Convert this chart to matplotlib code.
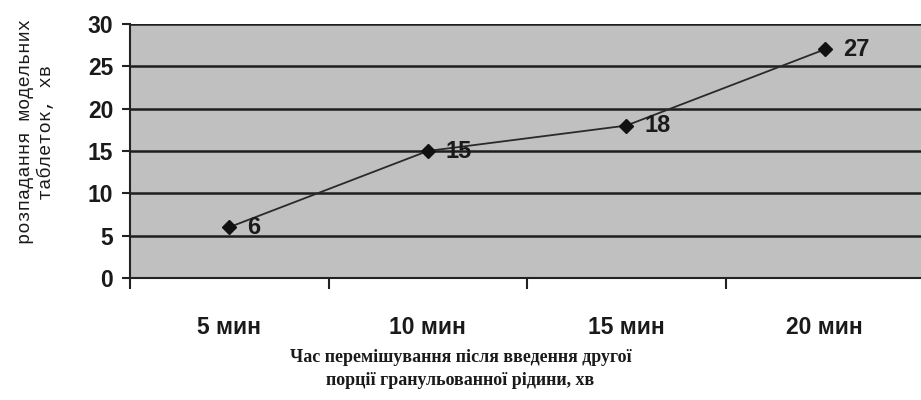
import matplotlib.pyplot as plt

categories = ["5 мин", "10 мин", "15 мин", "20 мин"]
values = [6, 15, 18, 27]
y_ticks = [0, 5, 10, 15, 20, 25, 30]

fig = plt.figure(figsize=(9.21, 4), dpi=100)
ax = fig.add_axes([130 / 921, 122 / 400, 794 / 921, 254 / 400])
ax.set_facecolor("#c0c0c0")

x = list(range(len(categories)))
ax.plot(x, values, color="#2a2a2a", lw=1.3, marker="D", ms=7, mfc="#111111", mec="#111111", zorder=3)
for xi, v in zip(x, values):
    ax.annotate(str(v), (xi, v), xytext=(13, 0), textcoords="offset points", va="center", ha="left",
                fontsize=17, fontweight="bold", family="Liberation Sans", color="#1a1a1a", zorder=4)

ax.set_ylim(0, 30)
ax.set_xlim(-0.5, 3.5)
ax.set_yticks(y_ticks)
ax.yaxis.grid(True, color="#1e1e1e", lw=1.8)
ax.set_axisbelow(True)

# category ticks sit on the borders between categories
ax.set_xticks([-0.5, 0.5, 1.5, 2.5])
ax.set_xticklabels([])
ax.set_xticks(x, minor=True)
ax.set_xticklabels(categories, minor=True)
ax.tick_params(axis="x", which="minor", length=0, pad=27)
ax.tick_params(axis="x", which="major", length=8, width=1.5, color="#222222")
ax.tick_params(axis="y", length=6, width=1.5, color="#222222", pad=6)
for lab in ax.get_xticklabels(minor=True) + ax.get_yticklabels():
    lab.set_fontsize(16.5)
    lab.set_fontweight("bold")
    lab.set_family("Liberation Sans")
    lab.set_color("#1a1a1a")

for s in ["top", "right"]:
    ax.spines[s].set_visible(False)
ax.spines["left"].set_color("#222222")
ax.spines["left"].set_linewidth(1.5)
ax.spines["bottom"].set_color("#222222")
ax.spines["bottom"].set_linewidth(1.5)

fig.text(0.5, 1 - 369 / 400, "Час перемішування після введення другої\nпорції гранульованної рідини, хв",
         ha="center", va="center", fontsize=13, fontweight="bold", family="Liberation Serif",
         linespacing=1.45, color="#1a1a1a")
fig.text(36 / 921, 1 - 132 / 400, "розпадання модельних\nтаблеток, хв", rotation=90,
         ha="center", va="center", fontsize=13.5, family="Liberation Mono", color="#1a1a1a",
         linespacing=1.35)

fig.savefig("out.png", dpi=100)
